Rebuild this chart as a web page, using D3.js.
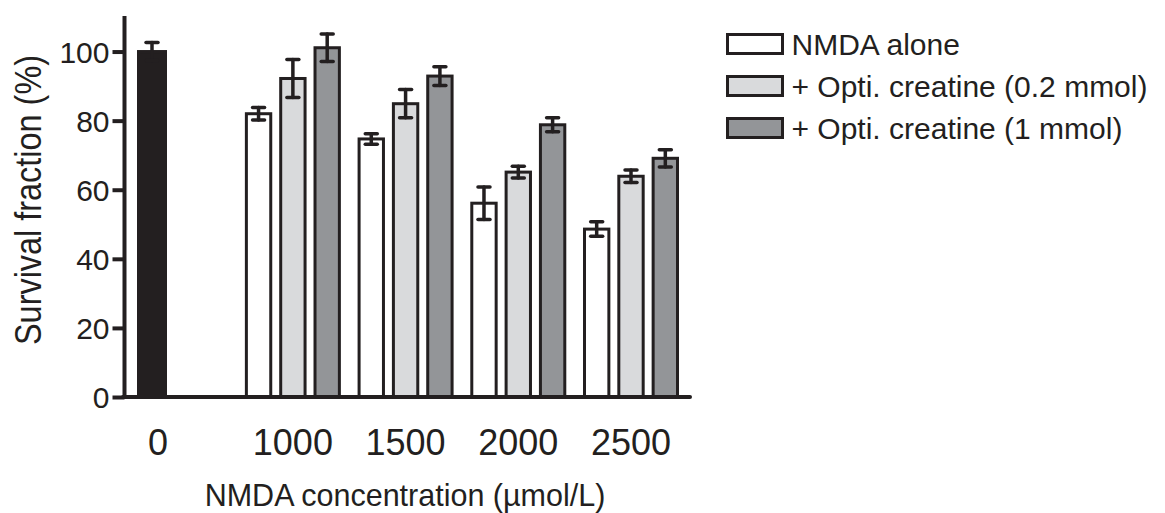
<!DOCTYPE html>
<html>
<head>
<meta charset="utf-8">
<script src="https://cdn.jsdelivr.net/npm/d3@7"></script>
<style>
  html, body { margin: 0; padding: 0; background: #ffffff; }
  svg { display: block; font-family: "Liberation Sans", Arial, sans-serif; }
</style>
</head>
<body>
<svg id="chart" width="1165" height="513"></svg>
<script>
// ---- data ----
const categories = ["0", "1000", "1500", "2000", "2500"];
const seriesNames = ["NMDA alone", "+ Opti. creatine (0.2 mmol)", "+ Opti. creatine (1 mmol)"];
const controlValue = 100;
const controlError = 2.6;
const nmdaAlone = [82.0, 74.7, 56.1, 48.6];
const nmdaAloneErr = [1.8, 1.5, 4.7, 2.1];
const opti02 = [92.2, 84.9, 65.1, 63.9];
const opti02Err = [5.5, 4.1, 1.7, 1.8];
const opti1 = [101.1, 92.9, 78.8, 69.1];
const opti1Err = [4.0, 2.7, 2.0, 2.5];
const yTicks = [0, 20, 40, 60, 80, 100];
const yTitle = "Survival fraction (%)";
const xTitle = "NMDA concentration (\u00b5mol/L)";

// ---- styles ----
const ink = "#231f20";
const fills = ["#ffffff", "#d9dadc", "#939598"];
const controlFill = "#231f20";

const svg = d3.select("#chart");

// scales
const y = d3.scaleLinear().domain([0, 110]).range([397, 17]);
// slot positions: control at 0, NMDA groups after a wider gap
const gap = 1.25;
const slot = categories.map((c, i) => i === 0 ? 0 : gap + (i - 1));
const x = d3.scaleLinear().domain([0, gap + 3]).range([152, 631]);
const inner = d3.scaleBand().domain(seriesNames).range([-46.5, 46.5]).paddingInner(0.29).paddingOuter(0);

const seriesVals = [nmdaAlone, opti02, opti1];
const seriesErrs = [nmdaAloneErr, opti02Err, opti1Err];

const barsData = [];
seriesNames.forEach((s, si) => {
  seriesVals[si].forEach((v, gi) => {
    barsData.push({ s, si, cat: categories[gi + 1], slot: slot[gi + 1], v, e: seriesErrs[si][gi] });
  });
});

const g = svg.append("g");

// control bar
const ctrlW = 27;
g.append("rect")
  .attr("x", x(slot[0]) - ctrlW / 2)
  .attr("y", y(controlValue))
  .attr("width", ctrlW)
  .attr("height", y(0) - y(controlValue))
  .attr("fill", controlFill)
  .attr("stroke", ink)
  .attr("stroke-width", 3);

// grouped bars
const bw = inner.bandwidth();
g.selectAll("rect.bar").data(barsData).join("rect")
  .attr("class", "bar")
  .attr("x", d => x(d.slot) + inner(d.s))
  .attr("y", d => y(d.v))
  .attr("width", bw)
  .attr("height", d => y(0) - y(d.v))
  .attr("fill", d => fills[d.si])
  .attr("stroke", ink)
  .attr("stroke-width", 3);

// error bars
const errData = barsData.map(d => ({ cx: x(d.slot) + inner(d.s) + bw / 2, v: d.v, e: d.e }));
errData.push({ cx: x(slot[0]), v: controlValue, e: controlError });
const capW = 12;
const eg = g.append("g").attr("stroke", ink).attr("stroke-width", 3.5).attr("stroke-linecap", "round");
eg.selectAll("line.v").data(errData).join("line")
  .attr("class", "v")
  .attr("x1", d => d.cx).attr("x2", d => d.cx)
  .attr("y1", d => y(d.v + d.e)).attr("y2", d => y(d.v - d.e));
eg.selectAll("line.t").data(errData).join("line")
  .attr("class", "t")
  .attr("x1", d => d.cx - capW / 2).attr("x2", d => d.cx + capW / 2)
  .attr("y1", d => y(d.v + d.e)).attr("y2", d => y(d.v + d.e));
eg.selectAll("line.b").data(errData).join("line")
  .attr("class", "b")
  .attr("x1", d => d.cx - capW / 2).attr("x2", d => d.cx + capW / 2)
  .attr("y1", d => y(d.v - d.e)).attr("y2", d => y(d.v - d.e));

// y axis
const yAxis = d3.axisLeft(y).tickValues(yTicks).tickSize(12).tickSizeOuter(0).tickPadding(3);
const ya = svg.append("g").attr("transform", "translate(124.5,0)").call(yAxis);
ya.select(".domain").attr("stroke", ink).attr("stroke-width", 4).attr("d", `M0,${y(0) + 2}V16`);
ya.selectAll(".tick line").attr("stroke", ink).attr("stroke-width", 4);
ya.selectAll(".tick text").attr("fill", ink).attr("font-size", 30)
  .attr("font-family", "Liberation Sans, Arial, sans-serif").attr("dy", "0.36em");

// x axis line
svg.append("line")
  .attr("x1", 123).attr("x2", 690)
  .attr("y1", y(0)).attr("y2", y(0))
  .attr("stroke", ink).attr("stroke-width", 4).attr("stroke-linecap", "round");

// x tick labels
svg.append("g").selectAll("text").data(categories).join("text")
  .attr("x", (d, i) => x(slot[i]) + (i === 0 ? 6 : 0))
  .attr("y", 455)
  .attr("text-anchor", "middle")
  .attr("font-size", 36)
  .attr("fill", ink)
  .text(d => d);

// axis titles
svg.append("text")
  .attr("transform", "translate(41,200) rotate(-90)")
  .attr("text-anchor", "middle")
  .attr("font-size", 36)
  .attr("textLength", 290)
  .attr("lengthAdjust", "spacingAndGlyphs")
  .attr("fill", ink)
  .text(yTitle);

svg.append("text")
  .attr("x", 405).attr("y", 506)
  .attr("text-anchor", "middle")
  .attr("font-size", 30.5)
  .attr("fill", ink)
  .text(xTitle);

// legend
const leg = svg.append("g").attr("transform", "translate(727.5,0)");
const legY = d3.scalePoint().domain(seriesNames).range([44, 128]);
const lr = leg.selectAll("g").data(seriesNames).join("g")
  .attr("transform", d => `translate(0,${legY(d)})`);
lr.append("rect")
  .attr("x", 0).attr("y", -9.5).attr("width", 55).attr("height", 19)
  .attr("fill", (d, i) => fills[i]).attr("stroke", ink).attr("stroke-width", 3);
lr.append("text")
  .attr("x", 64).attr("y", 0).attr("dy", "0.36em")
  .attr("font-size", 30).attr("fill", ink)
  .text(d => d);
</script>
</body>
</html>
